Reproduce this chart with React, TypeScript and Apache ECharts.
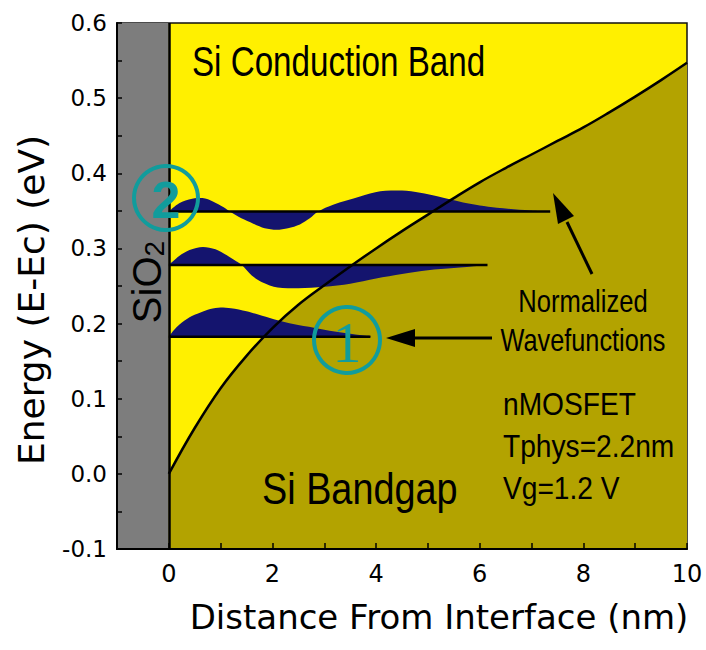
import React, { useEffect, useRef } from "react";
import * as echarts from "echarts";

// Conduction band edge E(x)
const curveX = [0, 0.5, 1, 1.5, 2, 2.5, 3, 3.5, 4, 4.5, 5, 5.5, 6, 6.5, 7, 7.5, 8, 8.5, 9, 9.5, 10];
const curveE = [0, 0.061, 0.114, 0.157, 0.194, 0.225, 0.251, 0.276, 0.3, 0.323, 0.345, 0.367, 0.388, 0.407, 0.425, 0.443, 0.461, 0.481, 0.502, 0.524, 0.547];

// Subband energy levels (eV)
const levels = [0.1825, 0.278, 0.349];

// Normalized wavefunctions: positions (nm) and amplitudes (eV offset from level)
const wf1X = [0, 0.1, 0.2, 0.4, 0.6, 0.8, 1.0, 1.2, 1.5, 1.8, 2.1, 2.4, 2.8, 3.2, 3.6, 3.89];
const wf1A = [0, 0.009, 0.016, 0.026, 0.032, 0.037, 0.039, 0.038, 0.034, 0.028, 0.022, 0.017, 0.012, 0.007, 0.003, 0.001];

const wf2X = [0, 0.2, 0.4, 0.66, 0.9, 1.12, 1.3, 1.41, 1.6, 1.8, 2.1, 2.5, 3.0, 3.5, 4.0, 4.5, 5.0, 5.5, 6.0, 6.15];
const wf2A = [0, 0.012, 0.02, 0.024, 0.021, 0.013, 0.005, 0, -0.014, -0.023, -0.03, -0.031, -0.029, -0.025, -0.018, -0.012, -0.007, -0.004, -0.001, 0];

const wf3X = [0, 0.2, 0.45, 0.65, 0.86, 1.05, 1.18, 1.4, 1.63, 1.85, 2.08, 2.3, 2.53, 2.72, 2.88, 3.17, 3.69, 4.08, 4.5, 4.85, 5.2, 5.68, 6.0, 6.33, 6.97, 7.36];
const wf3A = [0, 0.011, 0.017, 0.018, 0.013, 0.006, 0, -0.009, -0.016, -0.022, -0.024, -0.022, -0.017, -0.009, 0, 0.009, 0.02, 0.027, 0.028, 0.025, 0.02, 0.012, 0.008, 0.005, 0.0015, 0];

const wfX = [wf1X, wf2X, wf3X];
const wfA = [wf1A, wf2A, wf3A];

// Axis ranges and ticks
const xMin = -1;
const xMax = 10;
const xStep = 1;
const yMin = -0.1;
const yMax = 0.6;
const yStep = 0.05;

const YELLOW = "#fff000";
const OLIVE = "#b3a300";
const GRAY = "#7d7d7d";
const NAVY = "#14146e";
const TEAL = "#119c9c";
const AXIS_FONT = "DejaVu Sans";
const ANNOT_FONT = "Liberation Sans, Arial, sans-serif";

export default function App() {
  const ref = useRef<HTMLDivElement>(null);

  useEffect(() => {
    document.body.style.margin = "0";
    if (!ref.current) return;
    const chart = echarts.init(ref.current, null, { renderer: "svg" });

    const curveData = curveX.map((x, i) => [x, curveE[i]]);

    const waveSeries = wfX.map((xs, k) => ({
      type: "line",
      data: xs.map((x, i) => [x, levels[k] + wfA[k][i]]),
      smooth: 0.3,
      symbol: "none",
      lineStyle: { width: 0, opacity: 0 },
      areaStyle: { color: NAVY, opacity: 1, origin: levels[k] },
      silent: true,
    }));

    const levelSeries = wfX.map((xs, k) => ({
      type: "line",
      data: [
        [0, levels[k]],
        [xs[xs.length - 1], levels[k]],
      ],
      symbol: "none",
      lineStyle: { color: "#000", width: 2.5 },
      silent: true,
    }));

    const Z = 100;
    const txt = (x: number, y: number, text: string, font: string, scaleX: number, align = "left") => ({
      type: "text",
      x,
      y,
      z: Z,
      scaleX,
      style: { text, fill: "#000", font, textAlign: align, textVerticalAlign: "middle" },
    });

    const option: any = {
      animation: false,
      grid: {
        left: 117,
        right: 19,
        top: 23,
        bottom: 101,
        show: true,
        backgroundColor: YELLOW,
        borderColor: "#111",
        borderWidth: 1.5,
      },
      xAxis: {
        type: "value",
        min: xMin,
        max: xMax,
        interval: xStep,
        z: 10,
        axisLine: { show: true, onZero: false, lineStyle: { color: "#000", width: 2 } },
        axisTick: { show: true, inside: true, length: 6, lineStyle: { color: "#000", width: 1.5 } },
        splitLine: { show: false },
        axisLabel: {
          color: "#000",
          fontFamily: AXIS_FONT,
          fontSize: 24,
          margin: 13,
          formatter: (v: number) => (v >= 0 && Math.round(v) % 2 === 0 ? String(Math.round(v)) : ""),
        },
        name: "Distance From Interface (nm)",
        nameLocation: "middle",
        nameGap: 51,
        nameTextStyle: {
          color: "#000",
          fontFamily: AXIS_FONT,
          fontSize: 34,
          padding: [0, 0, 0, 74],
        },
      },
      yAxis: {
        type: "value",
        min: yMin,
        max: yMax,
        interval: yStep,
        z: 10,
        axisLine: { show: true, onZero: false, lineStyle: { color: "#000", width: 2 } },
        axisTick: { show: true, inside: true, length: 5, lineStyle: { color: "#000", width: 1.5 } },
        splitLine: { show: false },
        axisLabel: {
          color: "#000",
          fontFamily: AXIS_FONT,
          fontSize: 23,
          margin: 10,
          formatter: (v: number) => {
            const r = Math.round(v * 20);
            return r % 2 === 0 ? (r / 20).toFixed(1) : "";
          },
        },
        name: "Energy (E-Ec) (eV)",
        nameLocation: "middle",
        nameGap: 68,
        nameRotate: 90,
        nameTextStyle: {
          color: "#000",
          fontFamily: AXIS_FONT,
          fontSize: 36,
          padding: [0, 28, 0, 0],
        },
      },
      series: [
        {
          type: "line",
          data: curveData,
          smooth: 0.4,
          symbol: "none",
          lineStyle: { width: 0, opacity: 0 },
          areaStyle: { color: OLIVE, opacity: 1, origin: "start" },
          silent: true,
          markArea: {
            silent: true,
            itemStyle: { color: GRAY, opacity: 1 },
            data: [[{ xAxis: xMin }, { xAxis: 0 }]],
          },
          markLine: {
            silent: true,
            symbol: "none",
            label: { show: false },
            lineStyle: { color: "#000", width: 2.5, type: "solid" },
            data: [{ xAxis: 0 }],
          },
        },
        ...waveSeries,
        ...levelSeries,
        {
          type: "line",
          data: curveData,
          smooth: 0.4,
          symbol: "none",
          lineStyle: { color: "#000", width: 2.5 },
          silent: true,
        },
      ],
      graphic: [
        txt(192, 62, "Si Conduction Band", `42px ${ANNOT_FONT}`, 0.79),
        txt(262, 489, "Si Bandgap", `44px ${ANNOT_FONT}`, 0.86),
        txt(583, 301, "Normalized", `32px ${ANNOT_FONT}`, 0.8, "center"),
        txt(583, 340, "Wavefunctions", `32px ${ANNOT_FONT}`, 0.79, "center"),
        txt(503, 404, "nMOSFET", `32px ${ANNOT_FONT}`, 0.88),
        txt(503, 446, "Tphys=2.2nm", `32px ${ANNOT_FONT}`, 0.88),
        txt(503, 488, "Vg=1.2 V", `32px ${ANNOT_FONT}`, 0.88),
        {
          type: "group",
          x: 147,
          y: 282,
          z: Z,
          rotation: Math.PI / 2,
          children: [
            {
              type: "text",
              x: 0,
              y: 0,
              z: Z,
              style: {
                fill: "#000",
                text: "{a|SiO}{b|2}",
                textAlign: "center",
                textVerticalAlign: "middle",
                rich: {
                  a: { fontSize: 40, fontFamily: ANNOT_FONT, fill: "#000" },
                  b: { fontSize: 28, fontFamily: ANNOT_FONT, fill: "#000", padding: [14, 0, 0, 0] },
                },
              },
            },
          ],
        },
        // circled labels
        { type: "circle", z: Z, shape: { cx: 166, cy: 198, r: 32 }, style: { fill: "none", stroke: TEAL, lineWidth: 4 } },
        {
          type: "text",
          x: 166,
          y: 200,
          z: Z,
          style: { text: "2", fill: TEAL, font: `bold 52px ${ANNOT_FONT}`, textAlign: "center", textVerticalAlign: "middle" },
        },
        { type: "circle", z: Z, shape: { cx: 347, cy: 340, r: 33 }, style: { fill: "none", stroke: TEAL, lineWidth: 4 } },
        {
          type: "text",
          x: 347,
          y: 342,
          z: Z,
          style: { text: "1", fill: TEAL, font: `58px Liberation Serif, serif`, textAlign: "center", textVerticalAlign: "middle" },
        },
        // arrows
        { type: "line", z: Z, shape: { x1: 492, y1: 338, x2: 410, y2: 338 }, style: { stroke: "#000", lineWidth: 3 } },
        { type: "polygon", z: Z, shape: { points: [[386, 338], [415, 329], [415, 347]] }, style: { fill: "#000" } },
        { type: "line", z: Z, shape: { x1: 592, y1: 274, x2: 567, y2: 222 }, style: { stroke: "#000", lineWidth: 3 } },
        { type: "polygon", z: Z, shape: { points: [[553, 193], [574, 216], [558, 224]] }, style: { fill: "#000" } },
      ],
    };

    chart.setOption(option);
    return () => chart.dispose();
  }, []);

  return <div ref={ref} style={{ width: 706, height: 650 }} />;
}
